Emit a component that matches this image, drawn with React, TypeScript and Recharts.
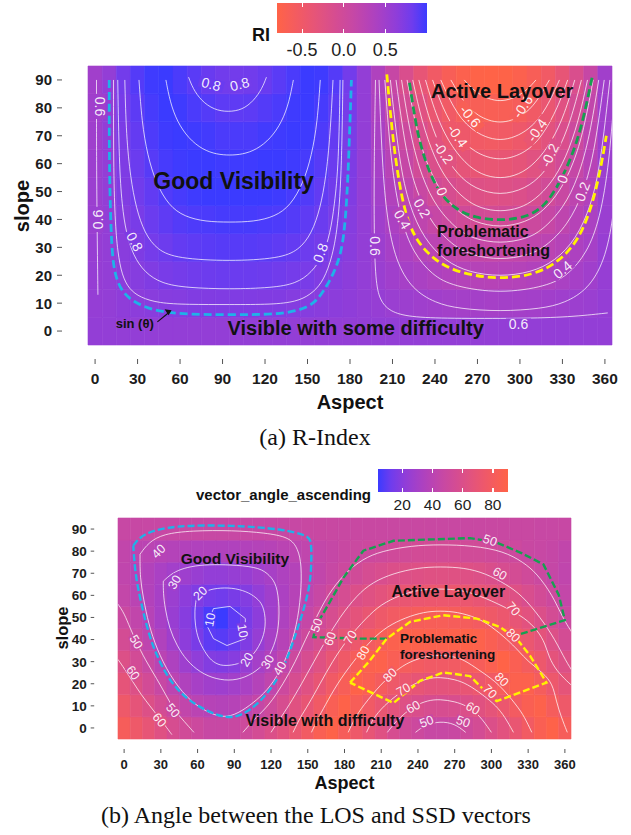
import React from 'react';
import { ComposedChart, XAxis, YAxis, Line, Scatter, ReferenceArea } from 'recharts';

const FONT = '"Liberation Sans", Arial, Helvetica, sans-serif';
const SERIF = '"Liberation Serif", "Times New Roman", Times, serif';

// grid of the two rasters: aspect columns, slope rows
const aspects = [0, 10, 20, 30, 40, 50, 60, 70, 80, 90, 100, 110, 120, 130, 140, 150, 160, 170, 180, 190, 200, 210, 220, 230, 240, 250, 260, 270, 280, 290, 300, 310, 320, 330, 340, 350, 360];
const slopes = [0, 10, 20, 30, 40, 50, 60, 70, 80, 90];
const aspectTicks = [0, 30, 60, 90, 120, 150, 180, 210, 240, 270, 300, 330, 360];
const slopeTicks = [0, 10, 20, 30, 40, 50, 60, 70, 80, 90];

// (a) R-Index, one row per slope
const riRows = [
  [0.6, 0.6, 0.6, 0.6, 0.6, 0.6, 0.6, 0.6, 0.6, 0.6, 0.6, 0.6, 0.6, 0.6, 0.6, 0.6, 0.6, 0.6, 0.6, 0.6, 0.6, 0.6, 0.6, 0.6, 0.6, 0.6, 0.6, 0.6, 0.6, 0.6, 0.6, 0.6, 0.6, 0.6, 0.6, 0.6, 0.6],
  [0.59, 0.6, 0.63, 0.65, 0.67, 0.69, 0.7, 0.72, 0.72, 0.73, 0.73, 0.73, 0.72, 0.72, 0.7, 0.69, 0.67, 0.65, 0.63, 0.6, 0.58, 0.55, 0.53, 0.51, 0.49, 0.47, 0.46, 0.46, 0.45, 0.46, 0.46, 0.47, 0.49, 0.51, 0.53, 0.55, 0.59],
  [0.58, 0.6, 0.65, 0.69, 0.73, 0.77, 0.79, 0.81, 0.83, 0.84, 0.84, 0.84, 0.83, 0.81, 0.79, 0.77, 0.73, 0.69, 0.65, 0.6, 0.55, 0.5, 0.45, 0.41, 0.37, 0.34, 0.31, 0.3, 0.29, 0.3, 0.31, 0.34, 0.37, 0.41, 0.45, 0.5, 0.58],
  [0.57, 0.6, 0.67, 0.74, 0.79, 0.83, 0.87, 0.89, 0.91, 0.92, 0.92, 0.92, 0.91, 0.89, 0.87, 0.83, 0.79, 0.74, 0.67, 0.6, 0.53, 0.45, 0.38, 0.3, 0.24, 0.19, 0.15, 0.13, 0.12, 0.13, 0.15, 0.19, 0.24, 0.3, 0.38, 0.45, 0.57],
  [0.55, 0.6, 0.69, 0.77, 0.84, 0.89, 0.93, 0.95, 0.96, 0.97, 0.97, 0.97, 0.96, 0.95, 0.93, 0.89, 0.84, 0.77, 0.69, 0.6, 0.5, 0.4, 0.29, 0.2, 0.11, 0.04, -0.01, -0.04, -0.05, -0.04, -0.01, 0.04, 0.11, 0.2, 0.29, 0.4, 0.55],
  [0.54, 0.6, 0.72, 0.81, 0.88, 0.94, 0.97, 0.99, 1.0, 1.0, 1.0, 1.0, 1.0, 0.99, 0.97, 0.94, 0.88, 0.81, 0.72, 0.6, 0.47, 0.34, 0.21, 0.08, -0.02, -0.11, -0.17, -0.21, -0.23, -0.21, -0.17, -0.11, -0.02, 0.08, 0.21, 0.34, 0.54],
  [0.53, 0.6, 0.74, 0.84, 0.92, 0.97, 0.99, 1.0, 1.0, 0.99, 0.99, 0.99, 1.0, 1.0, 0.99, 0.97, 0.92, 0.84, 0.74, 0.6, 0.45, 0.28, 0.12, -0.03, -0.16, -0.26, -0.33, -0.38, -0.39, -0.38, -0.33, -0.26, -0.16, -0.03, 0.12, 0.28, 0.53],
  [0.51, 0.6, 0.76, 0.87, 0.95, 0.99, 1.0, 0.99, 0.98, 0.96, 0.96, 0.96, 0.98, 0.99, 1.0, 0.99, 0.95, 0.87, 0.76, 0.6, 0.42, 0.23, 0.04, -0.14, -0.29, -0.4, -0.48, -0.53, -0.55, -0.53, -0.48, -0.4, -0.29, -0.14, 0.04, 0.23, 0.51],
  [0.5, 0.6, 0.78, 0.9, 0.97, 1.0, 0.99, 0.96, 0.93, 0.9, 0.89, 0.9, 0.93, 0.96, 0.99, 1.0, 0.97, 0.9, 0.78, 0.6, 0.39, 0.17, -0.05, -0.25, -0.41, -0.53, -0.62, -0.67, -0.68, -0.67, -0.62, -0.53, -0.41, -0.25, -0.05, 0.17, 0.5],
  [0.49, 0.6, 0.8, 0.93, 0.99, 1.0, 0.96, 0.91, 0.85, 0.81, 0.8, 0.81, 0.85, 0.91, 0.96, 1.0, 0.99, 0.93, 0.8, 0.6, 0.36, 0.11, -0.14, -0.36, -0.53, -0.66, -0.74, -0.79, -0.8, -0.79, -0.74, -0.66, -0.53, -0.36, -0.14, 0.11, 0.49],
];
const riBreaks = [-0.5, 0, 0.5];

// (b) angle between LOS and SSD vectors (degrees), one row per slope
const angleRows = [
  [82, 75, 69, 63, 57, 53, 50, 47, 47, 48, 51, 55, 60, 65, 71, 78, 85, 89, 82, 75, 69, 63, 57, 53, 50, 47, 47, 48, 51, 55, 60, 65, 71, 78, 85, 89, 82],
  [75, 68, 61, 55, 49, 44, 40, 38, 37, 38, 41, 46, 51, 57, 64, 70, 77, 84, 89, 83, 77, 71, 66, 62, 59, 57, 57, 58, 60, 64, 68, 73, 79, 85, 88, 81, 75],
  [68, 61, 54, 47, 41, 35, 31, 28, 27, 29, 32, 37, 43, 50, 57, 63, 70, 77, 83, 89, 85, 80, 75, 72, 69, 67, 67, 68, 70, 73, 77, 82, 87, 87, 81, 74, 68],
  [61, 54, 47, 40, 34, 27, 22, 18, 17, 19, 24, 30, 36, 43, 50, 57, 63, 70, 76, 82, 87, 88, 84, 81, 79, 77, 77, 78, 80, 82, 86, 90, 85, 80, 74, 67, 61],
  [55, 48, 42, 35, 28, 21, 15, 9, 8, 11, 17, 24, 31, 38, 44, 51, 57, 63, 69, 74, 79, 83, 87, 89, 88, 87, 87, 88, 89, 88, 85, 81, 77, 72, 67, 61, 55],
  [49, 44, 38, 31, 25, 19, 12, 6, 4, 9, 15, 21, 28, 34, 40, 46, 52, 57, 62, 67, 71, 75, 78, 80, 82, 83, 83, 82, 81, 79, 76, 73, 69, 65, 60, 55, 49],
  [45, 40, 36, 31, 26, 21, 17, 14, 13, 15, 18, 23, 28, 33, 38, 42, 47, 52, 56, 60, 63, 66, 69, 71, 72, 73, 73, 73, 72, 70, 68, 65, 62, 58, 54, 50, 45],
  [43, 39, 36, 32, 29, 27, 25, 23, 23, 24, 25, 28, 31, 34, 37, 41, 44, 47, 50, 53, 56, 58, 60, 61, 62, 63, 63, 63, 62, 61, 59, 57, 55, 52, 49, 46, 43],
  [44, 41, 40, 38, 37, 36, 35, 35, 35, 35, 36, 37, 38, 40, 41, 43, 45, 46, 48, 49, 50, 51, 52, 53, 54, 54, 54, 54, 53, 53, 52, 51, 50, 48, 47, 46, 44],
  [47, 47, 47, 47, 47, 47, 47, 47, 47, 47, 47, 47, 47, 47, 47, 48, 48, 48, 48, 48, 48, 48, 48, 48, 48, 48, 48, 48, 48, 48, 48, 48, 48, 48, 47, 47, 47],
];
const angleBreaks = [20, 40, 60, 80];

type Pt = [number, number];

// (a) contour lines, [aspect, slope]
const riCyan: Pt[] = [[10, 90], [10, 60], [11, 40], [12, 28], [14, 20], [19, 14], [27, 10.5], [40, 7.5], [60, 6], [95, 5.8], [130, 6], [145, 7.5], [155, 10], [161, 14], [168, 20], [174, 28], [177, 40], [179, 60], [181, 90]];
const riC06L: Pt[] = [[1, 90], [1, 60], [1.5, 35], [2, 13]];
const riC06R: Pt[] = [[198, 90], [197, 60], [197, 35], [198, 18], [201, 11], [208, 7], [222, 5], [250, 4.5], [300, 4.5], [335, 5], [362, 6.5]];
const riCa: Pt[] = [[13, 90], [13, 60], [14, 40], [16, 28], [19, 20], [24, 15], [32, 12], [45, 10], [65, 9.5], [95, 9.5], [125, 9.5], [142, 10.5], [152, 13], [160, 17], [166, 24], [171, 35], [174, 55], [175, 90]];
const riCb: Pt[] = [[16, 90], [17, 60], [19, 45], [22, 35], [27, 27], [35, 21], [47, 17], [65, 15.5], [95, 15], [125, 15.5], [142, 17], [153, 21], [161, 27], [166, 35], [169, 45], [172, 60], [173, 90]];
const riCc: Pt[] = [[21, 90], [22, 70], [25, 55], [29, 44], [35, 35], [44, 29], [58, 26], [95, 25], [130, 26], [144, 29], [153, 35], [159, 44], [163, 55], [166, 70], [168, 90]];
const riCd: Pt[] = [[31, 90], [33, 75], [37, 63], [43, 53], [52, 45], [63, 41], [78, 39.2], [95, 39], [112, 39.2], [127, 41], [138, 45], [147, 53], [153, 63], [157, 75], [159, 90]];
const riCe: Pt[] = [[50, 90], [53, 82], [58, 75], [66, 69], [76, 65], [86, 63.3], [95, 63], [104, 63.3], [114, 65], [124, 69], [132, 75], [137, 82], [140, 90]];
const riLoop: Pt[] = [[66, 91], [69, 87], [75, 82.5], [84, 79.3], [94, 78.5], [104, 79.3], [112, 82.5], [118, 87], [121, 91]];
const riV05: Pt[] = [[200.5, 90], [202.7, 60], [206.1, 40], [212.3, 25], [223.8, 15], [240.4, 10], [257, 8], [286, 7], [315, 8], [331.6, 10], [348.2, 15], [359.7, 25], [365.9, 40], [369.3, 60], [371.5, 90]];
const riV04: Pt[] = [[204.6, 90], [208.9, 60], [215.6, 40], [224.6, 28], [238.1, 20], [252.9, 16], [286, 13.4], [319.1, 16], [333.9, 20], [347.4, 28], [356.4, 40], [363.1, 60], [367.4, 90]];
const riV03: Pt[] = [[208.5, 90], [215, 60], [221.7, 45], [232.2, 33], [247.3, 25], [264.2, 21], [286, 19.5], [307.8, 21], [324.7, 25], [339.8, 33], [350.3, 45], [357, 60], [363.5, 90]];
const riV02: Pt[] = [[212.5, 90], [219.1, 65], [226.7, 50], [238.1, 38], [254.2, 30], [266.8, 27], [286, 25.5], [305.2, 27], [317.8, 30], [333.9, 38], [345.3, 50], [352.9, 65], [359.5, 90]];
const riV01: Pt[] = [[216.4, 90], [222.6, 70], [230.7, 55], [241.3, 44], [256.4, 36], [267.5, 33], [286, 31.3], [304.5, 33], [315.6, 36], [330.7, 44], [341.3, 55], [349.4, 70], [355.6, 90]];
const riV00: Pt[] = [[220.3, 90], [226.9, 72], [234.1, 60], [243.7, 50], [255.4, 43], [267.6, 39], [286, 37], [304.4, 39], [316.6, 43], [328.3, 50], [337.9, 60], [345.1, 72], [351.7, 90]];
const riVm01: Pt[] = [[224.3, 90], [230.7, 75], [239.5, 62], [249.7, 53], [261.4, 47], [272, 44], [286, 42.7], [300, 44], [310.6, 47], [322.3, 53], [332.5, 62], [341.3, 75], [347.7, 90]];
const riVm02: Pt[] = [[228.6, 90], [236.3, 75], [245.3, 64], [256, 56], [268, 51], [286, 48.5], [304, 51], [316, 56], [326.7, 64], [335.7, 75], [343.4, 90]];
const riVm03: Pt[] = [[233.3, 90], [240.3, 78], [249.2, 68], [261.3, 60], [272.7, 56], [286, 54.5], [299.3, 56], [310.7, 60], [322.8, 68], [331.7, 78], [338.7, 90]];
const riVm04: Pt[] = [[238.3, 90], [245.3, 80], [256, 70], [267.3, 64], [286, 60.6], [304.7, 64], [316, 70], [326.7, 80], [333.7, 90]];
const riVm05: Pt[] = [[244.1, 90], [252.9, 80], [264.5, 72], [286, 67], [307.5, 72], [319.1, 80], [327.9, 90]];
const riVm06: Pt[] = [[251.2, 90], [260.3, 82], [269.7, 77], [286, 73.9], [302.3, 77], [311.7, 82], [320.8, 90]];
const riVm07: Pt[] = [[260.7, 90], [269.3, 85], [286, 81.4], [302.7, 85], [311.3, 90]];
const riYellow: Pt[] = [[206, 92], [210, 70], [214, 55], [219, 42], [226, 33], [238, 26], [255, 21], [283, 18.5], [310, 20], [328, 25], [342, 33], [351, 45], [357, 58], [361, 70]];
const riGreen: Pt[] = [[222, 89], [227, 72], [233, 61], [241, 51], [253, 44], [268, 40.5], [288, 39.5], [306, 41], [318, 45], [328, 53], [337, 63], [344, 74], [351, 91]];
const riArrow: Pt[] = [[44, 3.3], [53, 7]];

// (b) contour lines
const agCyan: Pt[] = [[7.5, 82.5], [15, 88], [40, 91.7], [89, 91.7], [130, 90], [150, 87], [153, 84.7], [153, 75], [152, 64.9], [146, 52], [138, 38.9], [131, 28], [122, 19], [108, 10], [95, 5.5], [84, 4.4], [70, 7], [51, 12.8], [36, 22], [24, 35.8], [18, 47], [13, 58.7], [9, 70], [7.5, 82.5]];
const agGreen: Pt[] = [[214.5, 40.4], [192.7, 40.4], [154.6, 41.1], [157, 46.5], [168, 57], [179, 67.9], [195.4, 80.2], [220, 84.7], [282.5, 85.9], [304, 84], [325, 79], [342.5, 74], [355, 60.2], [360, 48.8], [320.6, 41.9]];
const agYellow: Pt[] = [[184.5, 20.5], [200, 30], [214.5, 40.4], [233.5, 48], [260.7, 51], [288, 49.5], [307, 45.7], [320.6, 40.4], [331.5, 32.7], [345, 20.5], [304.3, 12.1], [296, 16], [282.5, 23.5], [260.7, 25.1], [241.7, 21.3], [220, 11.3], [184.5, 20.5]];
const ag10: Pt[] = [[73, 54], [86.5, 55], [99, 49.5], [99, 40.4], [84, 37.3], [73, 40.4], [67.5, 46.5], [73, 54]];
const ag20: Pt[] = [[59, 58.7], [66, 62], [75.6, 63.3], [88, 63.5], [100, 61.8], [108, 59], [113.7, 55.6], [116, 48], [113.7, 40.4], [106, 33], [97.4, 29.7], [88, 28.3], [78.4, 28.1], [71, 30.5], [66, 34.3], [60.5, 40], [58, 46.5], [57.5, 53], [59, 58.7]];
const ag30: Pt[] = [[32, 66.4], [38, 69.5], [45.7, 71.8], [58, 73.5], [73, 74], [92, 73.7], [111, 72.5], [119, 69], [124.6, 64.9], [127, 55], [126, 43.4], [121, 35], [113.7, 28.1], [102, 23.5], [89, 21.3], [75, 22], [62, 25.1], [51, 30.5], [43, 37.3], [37, 45], [33.4, 54.2], [32, 61], [32, 66.4]];
const ag40: Pt[] = [[13, 78.6], [20, 84], [32, 87.8], [55, 89.3], [89, 89.4], [115, 88.3], [135.5, 86.3], [142, 81], [145, 74], [144.5, 60], [141, 46.5], [135, 35], [127, 25.1], [117, 17], [105.5, 11.3], [93, 6.5], [81, 4.4], [66, 7.5], [51, 13.6], [37, 24], [26.6, 35.8], [20, 47], [15.7, 58.7], [13, 68], [13, 78.6]];
const ag50L: Pt[] = [[-5, 56], [0, 52], [5, 45], [10, 39], [17, 31], [27, 22], [34, 15], [41, 8], [49, 3], [57, -2]];
const ag60L: Pt[] = [[-5, 31], [0, 27], [7, 21], [14, 15], [21, 10], [28, 5], [35, 0], [39, -3]];
const ag50Out: Pt[] = [[97, -2], [108, 5], [118, 10], [130, 20], [140, 30], [148, 40], [157, 50], [166, 60], [180, 70], [195, 76.5], [210, 80], [235, 82.5], [258, 83], [285, 82.5], [310, 80], [326, 75], [337, 70], [350, 60], [358, 50], [366, 43]];
const ag60Out: Pt[] = [[120, -2], [127, 4], [134.5, 10], [145, 20], [155, 30], [165, 40], [176, 50], [190, 60], [203, 66], [220, 70], [240, 72.5], [258, 73], [278, 72.5], [295, 70], [312, 65], [325, 60], [340, 50], [352, 40], [361, 30], [367, 25]];
const ag70Out: Pt[] = [[138, -2], [144, 5], [150, 10], [160, 20], [170, 30], [182, 40], [198, 50], [210, 56], [225, 60], [240, 62.5], [258, 63], [275, 62.5], [290, 60], [310, 55], [327, 50], [338, 44], [344, 38], [347, 32], [353, 26], [362, 21], [368, 18]];
const ag80Out: Pt[] = [[153, -2], [158, 4], [164, 10], [174, 20], [187, 30], [202, 40], [215, 46], [230, 50], [245, 52.5], [258, 53], [272, 52.5], [288, 50], [300, 46], [313, 40], [322, 35], [330, 30], [342, 25], [350, 20], [353, 12], [357, 5], [362, -2]];
const ag80In: Pt[] = [[183, -2], [188, 4], [195, 10], [210, 20], [222, 26], [233, 30], [247, 32.5], [260, 33], [272, 32], [280, 30], [293, 25], [306, 20], [321, 10], [327, 5], [333, -2]];
const ag70In: Pt[] = [[198, -2], [203, 4], [212, 10], [225, 16], [237, 20], [248, 22.5], [258, 23], [270, 22], [280, 20], [293, 15], [304, 10], [311, 5], [318, -2]];
const ag60In: Pt[] = [[215, -2], [222, 3], [230, 7], [237, 10], [248, 12.5], [258, 13], [270, 12], [280, 10], [290, 6], [300, -2]];
const ag50In: Pt[] = [[238, -2], [246, 1.5], [258, 3], [270, 2], [279, -2]];

// contour labels: text, aspect, slope, rotation
type LabelRow = [string, number, number, number];
const riLabelRows: LabelRow[] = [
  ['0.6', 3.5, 80.5, 90], ['0.6', 2, 40, -90], ['0.8', 28, 32, 62], ['0.8', 82, 88.5, 15], ['0.8', 102, 88.5, -15],
  ['0.8', 159, 28, -70], ['0.6', 198, 30.5, 90], ['0.4', 217, 40, 60], ['0.2', 231, 44, 60], ['0', 245, 50, 70],
  ['-0.2', 246, 64, 55], ['-0.4', 256, 70, 55], ['-0.6', 265, 77, 50], ['-0.6', 302, 80.5, -55], ['-0.4', 312, 72, -55],
  ['-0.2', 321, 63, -65], ['0', 330, 54.5, -70], ['0.2', 344, 50, -70], ['0.4', 330, 22, -40], ['0.6', 299, 2.5, 0],
];
const agLabelRows: LabelRow[] = [
  ['40', 28, 80, -45], ['30', 41, 66, -60], ['20', 62, 61, -45], ['10', 70, 49, -80], ['10', 97, 44, 80],
  ['20', 100, 31, -60], ['30', 117, 30, -60], ['40', 127, 27, -60], ['50', 10, 39, 60], ['60', 7.5, 25, 55],
  ['50', 40, 8, 50], ['60', 29, 3.7, 50], ['50', 157, 46.5, -70], ['60', 168, 40.4, -70], ['70', 184.5, 41, -60],
  ['80', 195, 34, -60], ['80', 217, 24, -45], ['70', 228, 17.5, -30], ['60', 236, 9.6, -30], ['50', 247, 3, -20],
  ['50', 277, 3, 20], ['60', 285, 9, 30], ['70', 299, 16.6, 45], ['80', 308.6, 22, 45], ['80', 318, 42, 45],
  ['70', 318, 54, 50], ['60', 307, 70, 30], ['50', 299, 85, 20],
];

// annotations: text, aspect, slope, font size, anchor
type NoteRow = [string, number, number, number, 'start' | 'middle'];
const riNoteRows: NoteRow[] = [
  ['Active Layover', 287.5, 86, 20, 'middle'],
  ['Good Visibility', 97.8, 53.8, 23, 'middle'],
  ['Problematic', 241.5, 35.6, 16, 'start'],
  ['foreshortening', 241.5, 28.8, 16, 'start'],
  ['Visible with some difficulty', 184, 1, 20, 'middle'],
  ['sin (θ)', 28, 2.7, 13, 'middle'],
];
const agNoteRows: NoteRow[] = [
  ['Good Visibility', 90.5, 76.6, 15.5, 'middle'],
  ['Active Layover', 264.8, 61.9, 16, 'middle'],
  ['Problematic', 225.3, 40.7, 13.5, 'start'],
  ['foreshortening', 225.3, 33.5, 13.5, 'start'],
  ['Visible with difficulty', 164, 3.7, 16, 'middle'],
];

// ---------- colour ramp in CIELAB, like ggplot's gradient ----------
const TOMATO = '#FF6347';
const BLUE = '#3B3BFF';
const toLin = (c: number) => { const v = c / 255; return v <= 0.04045 ? v / 12.92 : Math.pow((v + 0.055) / 1.055, 2.4); };
const toSrgb = (c: number) => { const v = c <= 0.0031308 ? 12.92 * c : 1.055 * Math.pow(c, 1 / 2.4) - 0.055; return Math.round(Math.min(1, Math.max(0, v)) * 255); };
function hexToLab(hex: string) {
  const r = toLin(parseInt(hex.slice(1, 3), 16)), g = toLin(parseInt(hex.slice(3, 5), 16)), b = toLin(parseInt(hex.slice(5, 7), 16));
  const X = (0.4124 * r + 0.3576 * g + 0.1805 * b) / 0.95047;
  const Y = 0.2126 * r + 0.7152 * g + 0.0722 * b;
  const Z = (0.0193 * r + 0.1192 * g + 0.9505 * b) / 1.08883;
  const f = (t: number) => (t > 0.008856 ? Math.cbrt(t) : 7.787 * t + 16 / 116);
  return [116 * f(Y) - 16, 500 * (f(X) - f(Y)), 200 * (f(Y) - f(Z))];
}
function labToRgb([L, a, b]: number[]) {
  const fy = (L + 16) / 116, fx = fy + a / 500, fz = fy - b / 200;
  const inv = (t: number) => (t * t * t > 0.008856 ? t * t * t : (t - 16 / 116) / 7.787);
  const X = inv(fx) * 0.95047, Y = inv(fy), Z = inv(fz) * 1.08883;
  const r = 3.2406 * X - 1.5372 * Y - 0.4986 * Z;
  const g = -0.9689 * X + 1.8758 * Y + 0.0415 * Z;
  const bb = 0.0557 * X - 0.204 * Y + 1.057 * Z;
  return `rgb(${toSrgb(r)},${toSrgb(g)},${toSrgb(bb)})`;
}
function makeScale(rows: number[][], lo: string, hi: string) {
  const all = rows.flat();
  const min = Math.min(...all), max = Math.max(...all);
  const A = hexToLab(lo), B = hexToLab(hi);
  const fn = (v: number) => {
    const t = Math.min(1, Math.max(0, (v - min) / (max - min)));
    return labToRgb(A.map((x, i) => x + (B[i] - x) * t));
  };
  return { min, max, fn };
}
const riScale = makeScale(riRows, TOMATO, BLUE);
const agScale = makeScale(angleRows, BLUE, TOMATO);

const cellAt = (rows: number[][], a: number, s: number) => {
  const r = Math.min(9, Math.max(0, Math.round(s / 10)));
  const c = Math.min(36, Math.max(0, Math.round(a / 10)));
  return rows[r][c];
};

// ---------- shapes ----------
const LabelShape = (props: any) => {
  const { cx, cy, payload } = props;
  if (cx == null || cy == null) return null;
  const w = payload.text.length * payload.size * 0.55 + 2;
  const h = payload.size * 0.8;
  return (
    <g transform={`rotate(${payload.rot} ${cx} ${cy})`}>
      <rect x={cx - w / 2} y={cy - h / 2} width={w} height={h} fill={payload.bg} />
      <text x={cx} y={cy} dy="0.36em" textAnchor="middle" fontFamily={FONT} fontSize={payload.size} fill="#ffffff" fillOpacity={0.92}>
        {payload.text}
      </text>
    </g>
  );
};

const NoteShape = (props: any) => {
  const { cx, cy, payload } = props;
  if (cx == null || cy == null) return null;
  return (
    <text x={cx} y={cy} dy="0.36em" textAnchor={payload.anchor} fontFamily={FONT} fontWeight="bold" fontSize={payload.size} fill="#111111">
      {payload.text}
    </text>
  );
};

const ArrowHead = (props: any) => {
  const { cx, cy } = props;
  if (cx == null || cy == null) return null;
  return <polygon points={`${cx},${cy} ${cx - 7},${cy - 1} ${cx - 3},${cy + 5}`} fill="#111111" />;
};

interface Contour { pts: Pt[]; stroke: string; width: number; dash?: string; curve?: 'basis' | 'linear'; opacity?: number }

const WHITE = (pts: Pt[]): Contour => ({ pts, stroke: '#ffffff', width: 1, opacity: 0.72 });

const riContours: Contour[] = [
  ...[riC06L, riC06R, riCa, riCb, riCc, riCd, riCe, riLoop, riV05, riV04, riV03, riV02, riV01, riV00, riVm01, riVm02, riVm03, riVm04, riVm05, riVm06, riVm07].map(WHITE),
  { pts: riCyan, stroke: '#1FB2E8', width: 2.8, dash: '8 4' },
  { pts: riYellow, stroke: '#FFF200', width: 2.8, dash: '8 4' },
  { pts: riGreen, stroke: '#16A050', width: 2.8, dash: '8 4' },
  { pts: riArrow, stroke: '#111111', width: 1.2, curve: 'linear' },
];
const agContours: Contour[] = [
  { ...WHITE(ag10), curve: 'linear' },
  ...[ag20, ag30, ag40, ag50L, ag60L, ag50Out, ag60Out, ag70Out, ag80Out, ag80In, ag70In, ag60In, ag50In].map(WHITE),
  { pts: agCyan, stroke: '#1FB2E8', width: 2.4, dash: '7 3' },
  { pts: agGreen, stroke: '#16A050', width: 2.4, dash: '7 3', curve: 'linear' },
  { pts: agYellow, stroke: '#FFF200', width: 2.4, dash: '7 3', curve: 'linear' },
];

const toLabels = (rowsL: LabelRow[], rows: number[][], fn: (v: number) => string, size: number) =>
  rowsL.map(([text, x, y, rot]) => ({ text, x, y, rot, size, bg: fn(cellAt(rows, x, y)) }));
const toNotes = (rowsN: NoteRow[]) => rowsN.map(([text, x, y, size, anchor]) => ({ text, x, y, size, anchor }));

interface TickStyle { markTop: number; markLen: number; labelOff: number; size: number }

interface PanelProps {
  top: number;
  height: number;
  margin: { top: number; right: number; bottom: number; left: number };
  yWidth: number;
  xHeight: number;
  rows: number[][];
  fill: (v: number) => string;
  contours: Contour[];
  labels: any[];
  notes: any[];
  arrowTip?: any[];
  xt: TickStyle;
  yt: TickStyle;
}

function HeatPanel(p: PanelProps) {
  const cells = p.rows.flatMap((row, r) => row.map((v, c) => ({ a: aspects[c], s: slopes[r], v })));
  const xTick = (t: any) => (
    <g>
      <line x1={t.x} x2={t.x} y1={t.y + p.xt.markTop} y2={t.y + p.xt.markTop + p.xt.markLen} stroke="#555" strokeWidth={1} />
      <text x={t.x} y={t.y + p.xt.labelOff} textAnchor="middle" fontFamily={FONT} fontWeight="bold" fontSize={p.xt.size} fill="#1c1c1c">
        {t.payload.value}
      </text>
    </g>
  );
  const yTick = (t: any) => (
    <g>
      <line x1={t.x - p.yt.markTop} x2={t.x - p.yt.markTop + p.yt.markLen} y1={t.y} y2={t.y} stroke="#555" strokeWidth={1} />
      <text x={t.x - p.yt.labelOff} y={t.y} dy="0.36em" textAnchor="end" fontFamily={FONT} fontWeight="bold" fontSize={p.yt.size} fill="#1c1c1c">
        {t.payload.value}
      </text>
    </g>
  );
  return (
    <div style={{ position: 'absolute', left: 0, top: p.top }}>
      <ComposedChart width={631} height={p.height} margin={p.margin}>
        <XAxis type="number" dataKey="x" domain={[-5, 365]} allowDataOverflow ticks={aspectTicks} interval={0} height={p.xHeight}
          axisLine={false} tickLine={false} tickSize={0} tickMargin={0} tick={xTick} />
        <YAxis type="number" dataKey="y" domain={[-5, 95]} allowDataOverflow ticks={slopeTicks} interval={0} width={p.yWidth}
          axisLine={false} tickLine={false} tickSize={0} tickMargin={0} tick={yTick} />
        {cells.map((c) => {
          const col = p.fill(c.v);
          return (
            <ReferenceArea key={`${c.a}-${c.s}`} x1={c.a - 5} x2={c.a + 5} y1={c.s - 5} y2={c.s + 5}
              fill={col} fillOpacity={1} stroke={col} strokeWidth={0.6} ifOverflow="visible" />
          );
        })}
        {p.contours.map((k, i) => (
          <Line key={`k${i}`} data={k.pts.map(([x, y]) => ({ x, y }))} dataKey="y" type={k.curve ?? 'basis'}
            stroke={k.stroke} strokeWidth={k.width} strokeDasharray={k.dash} strokeOpacity={k.opacity ?? 1}
            dot={false} activeDot={false} isAnimationActive={false} legendType="none" />
        ))}
        <Scatter data={p.labels} shape={LabelShape} isAnimationActive={false} legendType="none" />
        <Scatter data={p.notes} shape={NoteShape} isAnimationActive={false} legendType="none" />
        {p.arrowTip && <Scatter data={p.arrowTip} shape={ArrowHead} isAnimationActive={false} legendType="none" />}
      </ComposedChart>
    </div>
  );
}

function ColourBar({ left, top, width, height, scale, breaks, labelTop, size, fmt }: any) {
  const stops = Array.from({ length: 11 }, (_, i) => `${scale.fn(scale.min + (scale.max - scale.min) * (i / 10))} ${i * 10}%`);
  const pos = (v: number) => ((v - scale.min) / (scale.max - scale.min)) * width;
  return (
    <>
      <div style={{ position: 'absolute', left, top, width, height, background: `linear-gradient(to right, ${stops.join(', ')})` }}>
        {breaks.map((b: number) => (
          <React.Fragment key={b}>
            <div style={{ position: 'absolute', left: pos(b) - 0.5, top: 0, width: 1.2, height: 4, background: '#fff' }} />
            <div style={{ position: 'absolute', left: pos(b) - 0.5, bottom: 0, width: 1.2, height: 4, background: '#fff' }} />
          </React.Fragment>
        ))}
      </div>
      {breaks.map((b: number) => (
        <Txt key={`l${b}`} x={left + pos(b)} y={labelTop} size={size} color="#222">{fmt(b)}</Txt>
      ))}
    </>
  );
}

function Txt({ x, y, size, bold, family, rotate, color, children }: any) {
  return (
    <div style={{
      position: 'absolute', left: x, top: y, transform: `translate(-50%, -50%)${rotate ? ` rotate(${rotate}deg)` : ''}`,
      fontFamily: family ?? FONT, fontWeight: bold ? 'bold' : 'normal', fontSize: size, color: color ?? '#111',
      whiteSpace: 'nowrap', lineHeight: 1,
    }}>
      {children}
    </div>
  );
}

export default function App() {
  return (
    <div style={{ position: 'absolute', left: 0, top: 0, width: 631, height: 835, background: '#ffffff', overflow: 'hidden' }}>
      {/* (a) R-Index */}
      <Txt x={261} y={35} size={18} bold>RI</Txt>
      <ColourBar left={277} top={3} width={150} height={30} scale={riScale} breaks={riBreaks} labelTop={50} size={18}
        fmt={(v: number) => v.toFixed(1)} />
      <HeatPanel top={0} height={400} margin={{ top: 66, right: 19, bottom: 0, left: 0 }} yWidth={88} xHeight={55}
        rows={riRows} fill={riScale.fn} contours={riContours}
        labels={toLabels(riLabelRows, riRows, riScale.fn, 14)} notes={toNotes(riNoteRows)}
        arrowTip={[{ x: 54, y: 7.5 }]}
        xt={{ markTop: 14, markLen: 5, labelOff: 39, size: 15.5 }} yt={{ markTop: 31, markLen: 5, labelOff: 36, size: 15 }} />
      <Txt x={350} y={402} size={20} bold>Aspect</Txt>
      <Txt x={21.7} y={205.7} size={20} bold rotate={-90}>slope</Txt>
      <Txt x={315} y={437} size={24} family={SERIF}>(a) R-Index</Txt>

      {/* (b) angle between LOS and SSD */}
      <Txt x={283.5} y={494} size={15} bold>vector_angle_ascending</Txt>
      <ColourBar left={378} top={469} width={130} height={23} scale={agScale} breaks={angleBreaks} labelTop={505} size={15.5}
        fmt={(v: number) => String(v)} />
      <HeatPanel top={460} height={330} margin={{ top: 58, right: 60, bottom: 0, left: 0 }} yWidth={118} xHeight={51}
        rows={angleRows} fill={agScale.fn} contours={agContours}
        labels={toLabels(agLabelRows, angleRows, agScale.fn, 12.5)} notes={toNotes(agNoteRows)}
        xt={{ markTop: 10, markLen: 4, labelOff: 29.5, size: 13 }} yt={{ markTop: 27.3, markLen: 3.5, labelOff: 31.3, size: 13.5 }} />
      <Txt x={344.5} y={783} size={18} bold>Aspect</Txt>
      <Txt x={61.7} y={628} size={16.5} bold rotate={-90}>slope</Txt>
      <Txt x={316} y={815} size={24} family={SERIF}>(b) Angle between the LOS and SSD vectors</Txt>
    </div>
  );
}
